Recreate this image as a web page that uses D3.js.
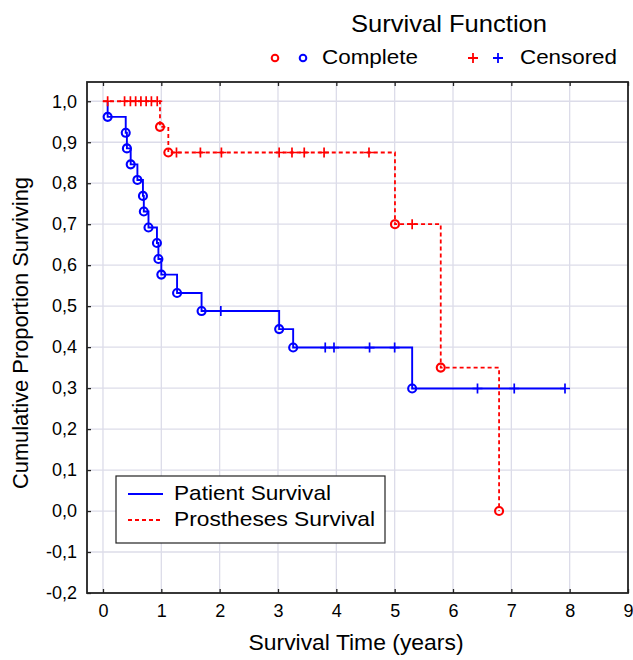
<!DOCTYPE html>
<html>
<head>
<meta charset="utf-8">
<script src="https://cdn.jsdelivr.net/npm/d3@7"></script>
<style>
  html, body { margin: 0; padding: 0; background: #fff; }
  text { font-family: "Liberation Sans", Arial, sans-serif; fill: #000; }
</style>
</head>
<body>
<div id="chart"></div>
<script>
// ---- data ----
const xTicks = [0, 1, 2, 3, 4, 5, 6, 7, 8, 9];
const yTicks = [-0.2, -0.1, 0.0, 0.1, 0.2, 0.3, 0.4, 0.5, 0.6, 0.7, 0.8, 0.9, 1.0];

// patient survival (blue, solid)
const patientStart = 0.08;
const patientEventTimes = [0.08, 0.39, 0.41, 0.475, 0.59, 0.685, 0.70, 0.78, 0.925, 0.95, 1.00, 1.27, 1.69, 3.02, 3.26, 5.30];
const patientEventSurv  = [0.962, 0.923, 0.885, 0.846, 0.808, 0.769, 0.731, 0.692, 0.654, 0.615, 0.577, 0.532, 0.488, 0.444, 0.399, 0.299];
const patientCensorTimes = [2.02, 3.81, 3.96, 4.57, 5.00, 6.42, 7.05, 7.92];

// prostheses survival (red, dashed)
const prosthStart = 0;
const prosthEventTimes = [0.977, 1.12, 5.005, 5.79, 6.79];
const prosthEventSurv  = [0.9375, 0.875, 0.70, 0.35, 0.0];
const prosthCensorTimes = [0.08, 0.37, 0.47, 0.56, 0.65, 0.74, 0.83, 0.93,
                           1.26, 1.67, 2.03, 3.02, 3.24, 3.45, 3.79, 4.56, 5.30];

const W = 633, H = 660;
const svg = d3.select("#chart").append("svg")
    .attr("width", W)
    .attr("height", H);

const x = d3.scaleLinear().domain([-0.274, 9]).range([87, 628]);
const y = d3.scaleLinear().domain([-0.2, 1.047]).range([593, 82]);

const fmt = v => d3.format(".1f")(v).replace(".", ",").replace("\u2212", "-");

// grid
svg.append("g")
    .selectAll("line.vg")
    .data(xTicks.filter(d => d < 9))
    .join("line")
    .attr("x1", d => x(d)).attr("x2", d => x(d))
    .attr("y1", y.range()[1]).attr("y2", y.range()[0])
    .attr("stroke", "#dcdce9").attr("stroke-width", 1.3);

svg.append("g")
    .selectAll("line.hg")
    .data(yTicks.filter(d => d > -0.2))
    .join("line")
    .attr("x1", x.range()[0]).attr("x2", x.range()[1])
    .attr("y1", d => y(d)).attr("y2", d => y(d))
    .attr("stroke", "#dcdce9").attr("stroke-width", 1.3);

// axes (inward ticks)
const styleAxis = g => {
    g.select(".domain").remove();
    g.selectAll(".tick line").attr("stroke", "#222").attr("stroke-width", 1.3);
    g.selectAll(".tick text").attr("fill", "#000").style("font-size", "18px")
        .style("font-family", "'Liberation Sans', Arial, sans-serif");
};

svg.append("g")
    .attr("transform", `translate(${x.range()[0]},0)`)
    .call(d3.axisLeft(y).tickValues(yTicks).tickFormat(fmt).tickSize(-4).tickPadding(10))
    .call(styleAxis);

svg.append("g")
    .attr("transform", `translate(0,${y.range()[0]})`)
    .call(d3.axisBottom(x).tickValues(xTicks).tickFormat(d3.format("d")).tickSize(-4).tickPadding(11))
    .call(styleAxis);

svg.append("g")
    .attr("transform", `translate(0,${y.range()[1]})`)
    .call(d3.axisTop(x).tickValues(xTicks).tickFormat("").tickSize(-4))
    .call(styleAxis);

// frame
svg.append("rect")
    .attr("x", x.range()[0]).attr("y", y.range()[1])
    .attr("width", x.range()[1] - x.range()[0])
    .attr("height", y.range()[0] - y.range()[1])
    .attr("fill", "none").attr("stroke", "#222").attr("stroke-width", 1.8);

// ---- survival curves ----
const stepLine = d3.line()
    .x(d => x(d.t))
    .y(d => y(d.s))
    .curve(d3.curveStepAfter);

function survAt(times, surv, t) {
    let s = 1.0;
    times.forEach((e, i) => { if (e <= t) s = surv[i]; });
    return s;
}

function curvePoints(start, times, surv, censors) {
    const pts = [{ t: start, s: 1.0 }];
    times.forEach((t, i) => pts.push({ t, s: surv[i] }));
    const end = d3.max([d3.max(times), d3.max(censors)]);
    pts.push({ t: end, s: survAt(times, surv, end) });
    return pts;
}

const plusPath = r => `M${-r},0H${r}M0,${-r}V${r}`;

function drawSeries(start, times, surv, censors, color, dash, width) {
    const g = svg.append("g");

    g.append("path")
        .datum(curvePoints(start, times, surv, censors))
        .attr("fill", "none")
        .attr("stroke", color)
        .attr("stroke-width", width)
        .attr("stroke-dasharray", dash)
        .attr("d", stepLine);

    g.selectAll("circle")
        .data(times.map((t, i) => ({ t, s: surv[i] })))
        .join("circle")
        .attr("cx", d => x(d.t))
        .attr("cy", d => y(d.s))
        .attr("r", 4)
        .attr("fill", "none")
        .attr("stroke", color)
        .attr("stroke-width", 2.1);

    g.selectAll("path.cens")
        .data(censors.map(t => ({ t, s: survAt(times, surv, t) })))
        .join("path")
        .attr("class", "cens")
        .attr("transform", d => `translate(${x(d.t)},${y(d.s)})`)
        .attr("d", plusPath(5))
        .attr("stroke", color)
        .attr("stroke-width", 1.7);
}

drawSeries(patientStart, patientEventTimes, patientEventSurv, patientCensorTimes, "#0000ff", null, 1.9);
drawSeries(prosthStart, prosthEventTimes, prosthEventSurv, prosthCensorTimes, "#ff0000", "4,3", 1.8);

// ---- top legend ----
svg.append("text")
    .attr("x", 449).attr("y", 32)
    .attr("text-anchor", "middle")
    .attr("textLength", 196).attr("lengthAdjust", "spacingAndGlyphs")
    .style("font-size", "24px")
    .text("Survival Function");

[["#ff0000", 275], ["#0000ff", 303]].forEach(([c, cx]) => {
    svg.append("circle")
        .attr("cx", cx).attr("cy", 58).attr("r", 3.3)
        .attr("fill", "none").attr("stroke", c).attr("stroke-width", 2);
});
[["#ff0000", 473], ["#0000ff", 498]].forEach(([c, cx]) => {
    svg.append("path")
        .attr("transform", `translate(${cx},58)`)
        .attr("d", plusPath(5))
        .attr("stroke", c).attr("stroke-width", 1.8);
});
svg.append("text")
    .attr("x", 322).attr("y", 64)
    .attr("textLength", 96).attr("lengthAdjust", "spacingAndGlyphs")
    .style("font-size", "21px")
    .text("Complete");
svg.append("text")
    .attr("x", 520).attr("y", 64)
    .attr("textLength", 97).attr("lengthAdjust", "spacingAndGlyphs")
    .style("font-size", "21px")
    .text("Censored");

// ---- legend box ----
const lg = svg.append("g");
lg.append("rect")
    .attr("x", 116).attr("y", 476)
    .attr("width", 269).attr("height", 67)
    .attr("fill", "#fff").attr("stroke", "#222").attr("stroke-width", 1.2);
lg.append("line")
    .attr("x1", 128).attr("x2", 163).attr("y1", 494).attr("y2", 494)
    .attr("stroke", "#0000ff").attr("stroke-width", 1.9);
lg.append("line")
    .attr("x1", 128).attr("x2", 163).attr("y1", 520).attr("y2", 520)
    .attr("stroke", "#ff0000").attr("stroke-width", 1.8).attr("stroke-dasharray", "4,3");
lg.append("text")
    .attr("x", 174).attr("y", 500)
    .attr("textLength", 157).attr("lengthAdjust", "spacingAndGlyphs")
    .style("font-size", "21px")
    .text("Patient Survival");
lg.append("text")
    .attr("x", 174).attr("y", 526)
    .attr("textLength", 201).attr("lengthAdjust", "spacingAndGlyphs")
    .style("font-size", "21px")
    .text("Prostheses Survival");

// ---- axis titles ----
svg.append("text")
    .attr("x", 356).attr("y", 650)
    .attr("text-anchor", "middle")
    .attr("textLength", 215).attr("lengthAdjust", "spacingAndGlyphs")
    .style("font-size", "22px")
    .text("Survival Time (years)");

svg.append("text")
    .attr("transform", "translate(28,333) rotate(-90)")
    .attr("text-anchor", "middle")
    .attr("textLength", 312).attr("lengthAdjust", "spacingAndGlyphs")
    .style("font-size", "22px")
    .text("Cumulative Proportion Surviving");
</script>
</body>
</html>
